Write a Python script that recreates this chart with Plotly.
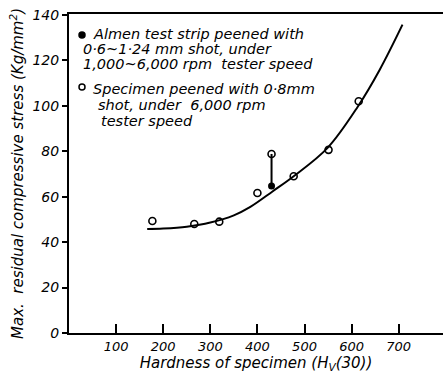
import plotly.graph_objects as go

# Data
open_x = [177, 266, 319, 400, 430, 477, 551, 615]
open_y = [49.3, 48.0, 49.0, 61.6, 78.8, 69.0, 80.6, 102.0]
filled_x = [430]
filled_y = [64.7]
curve_x = [166, 200, 250, 300, 350, 385, 432, 477, 549, 613, 660, 708]
curve_y = [45.8, 46.0, 46.8, 48.6, 51.8, 55.5, 62.3, 69.0, 81.5, 99.6, 116.0, 135.7]
link_x = [430, 430]
link_y = [64.7, 78.8]
x_ticks = [100, 200, 300, 400, 500, 600, 700]
y_ticks = [0, 20, 40, 60, 80, 100, 120, 140]

legend_lines_1 = ["Almen test strip peened with", "0·6~1·24 mm shot, under", "1,000~6,000 rpm  tester speed"]
legend_lines_2 = ["Specimen peened with 0·8mm", "shot, under  6,000 rpm", "tester speed"]

FONT = "DejaVu Sans, Liberation Sans"

fig = go.Figure()
fig.add_trace(go.Scatter(x=curve_x, y=curve_y, mode="lines", line=dict(color="black", width=2, shape="spline", smoothing=1.0), showlegend=False, hoverinfo="skip"))
fig.add_trace(go.Scatter(x=link_x, y=link_y, mode="lines", line=dict(color="black", width=2), showlegend=False))
fig.add_trace(go.Scatter(x=open_x, y=open_y, mode="markers", marker=dict(symbol="circle-open", size=7, color="black", line=dict(width=1.6)), showlegend=False))
fig.add_trace(go.Scatter(x=filled_x, y=filled_y, mode="markers", marker=dict(symbol="circle", size=7, color="black"), showlegend=False))

W, H = 443, 374
L, R, T, B = 69, 0, 14, 41
pw, ph = W - L - R, H - T - B

def px2paper(px, py):
    return (px - L) / pw, (H - B - py) / ph

ann = []
def add_line(text, px, py):
    x, y = px2paper(px, py)
    ann.append(dict(text=text, x=x, y=y, xref="paper", yref="paper", xanchor="left", yanchor="middle",
                    showarrow=False, font=dict(family=FONT, size=14.5, color="black", style="italic")))

add_line(legend_lines_1[0], 91, 34)
add_line(legend_lines_1[1], 81, 49)
add_line(legend_lines_1[2], 81, 64)
add_line(legend_lines_2[0], 91, 89)
add_line(legend_lines_2[1], 96, 105)
add_line(legend_lines_2[2], 99, 121)

shapes = []
for (cx, cy, filled) in [(82, 35, True), (82, 87, False)]:
    x0, y0 = px2paper(cx - 3, cy + 3)
    x1, y1 = px2paper(cx + 3, cy - 3)
    shapes.append(dict(type="circle", xref="paper", yref="paper", x0=x0, y0=y0, x1=x1, y1=y1,
                       line=dict(color="black", width=1.5), fillcolor="black" if filled else "white"))

fig.update_layout(
    width=W, height=H,
    margin=dict(l=L, r=R, t=T, b=B),
    paper_bgcolor="white", plot_bgcolor="white",
    font=dict(family=FONT, size=13, color="black", style="italic"),
    annotations=ann, shapes=shapes,
    showlegend=False,
)
fig.update_xaxes(range=[0, 794], tickvals=x_ticks, ticks="inside", ticklen=9, tickwidth=1.5, tickcolor="black",
                 showline=True, linecolor="black", linewidth=2, mirror=True, showgrid=False, zeroline=False,
                 tickfont=dict(size=13, style="italic"),
                 title=dict(text="Hardness of specimen (H<sub>V</sub>(30))", standoff=1, font=dict(size=15, style="italic")))
fig.update_yaxes(range=[0, 140.4], tickvals=y_ticks, ticks="outside", ticklen=5, tickwidth=1.5, tickcolor="black",
                 showline=True, linecolor="black", linewidth=2, showgrid=False, zeroline=False,
                 tickfont=dict(size=14, style="italic"),
                 title=dict(text="Max.  residual compressive stress (Kg/mm<sup>2</sup>)", standoff=5, font=dict(size=15, style="italic")))

fig.write_html("out.html")
